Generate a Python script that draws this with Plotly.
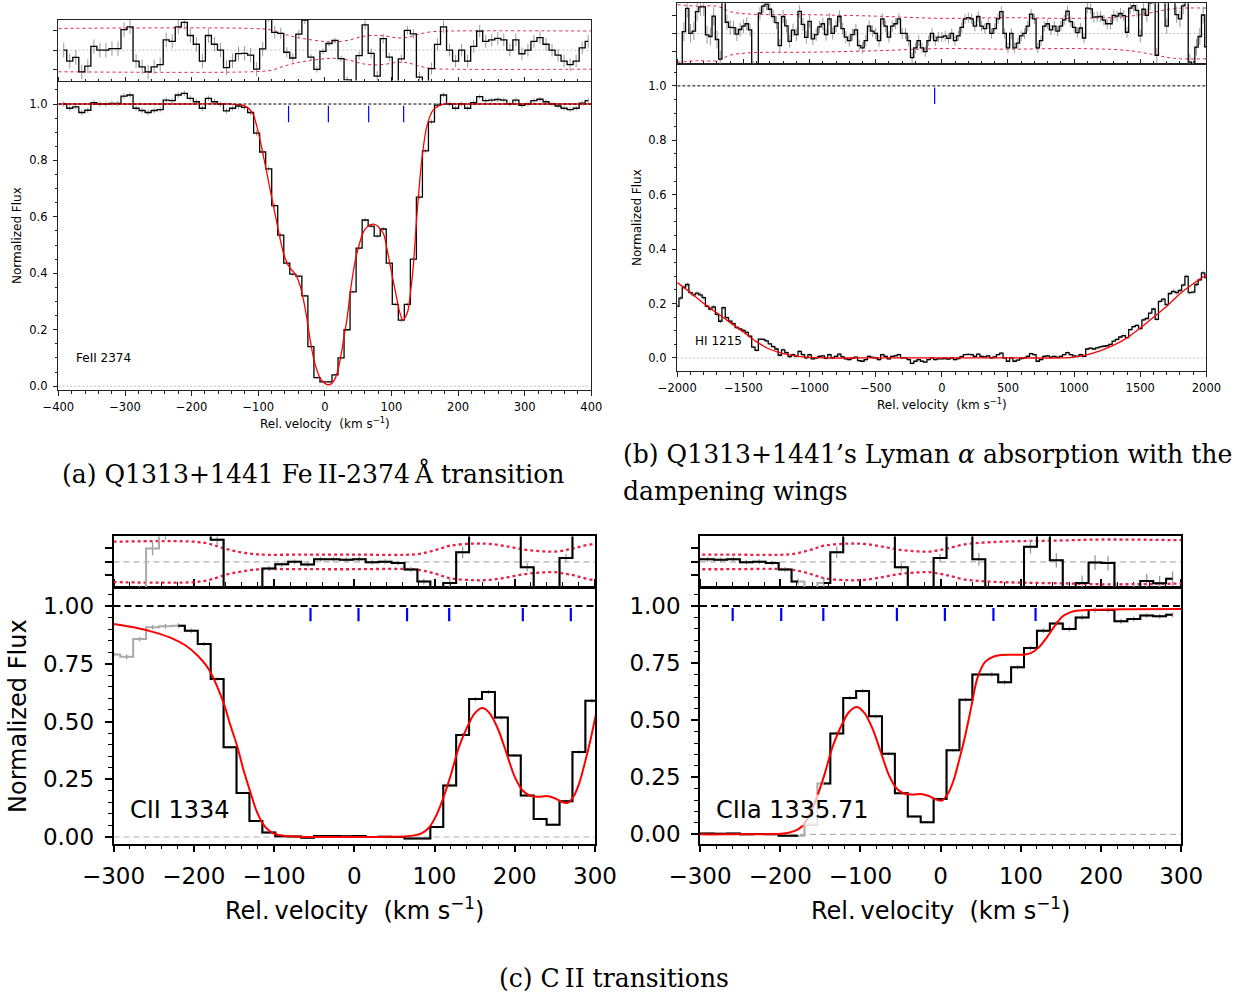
import numpy as np
import plotly.graph_objects as go

W, H = 1240, 998
SANS = "DejaVu Sans"
SERIF = "DejaVu Serif"

# ---------------- Fe II 2374 (panel a) ----------------
FE_V0, FE_DV = -392.0, 9.05          # first pixel centre, pixel width (km/s)
FE_FLUX = [
    1.000, 0.985, 0.990, 0.970, 0.978, 1.005, 1.000, 1.000, 1.002, 1.002,
    1.028, 1.032, 0.985, 0.977, 0.970, 0.977, 0.980, 1.014, 1.012, 1.032,
    1.038, 1.020, 1.008, 0.985, 1.020, 1.008, 1.000, 0.976, 0.985, 0.993,
    0.988, 0.970, 0.897, 0.830, 0.770, 0.640, 0.535, 0.436, 0.397, 0.390,
    0.320, 0.140, 0.030, 0.015, 0.015, 0.040, 0.100, 0.200, 0.334, 0.489,
    0.589, 0.567, 0.532, 0.557, 0.436, 0.290, 0.234, 0.290, 0.450, 0.670,
    0.834, 0.937, 0.996, 1.032, 1.000, 0.985, 1.000, 0.985, 1.005, 1.026,
    1.012, 1.014, 1.016, 1.014, 1.000, 1.014, 0.995, 1.000, 1.012, 1.017,
    1.008, 1.000, 0.993, 0.985, 0.980, 0.985, 1.003, 1.012,
]
FE_MODEL_V = [-400, -300, -200, -140, -125, -118, -112, -107, -102, -97, -92,
              -87, -82, -77, -72, -67, -62, -57, -52, -47, -42, -37, -32, -27,
              -22, -17, -12, -6, 0, 5, 10, 15, 20, 25, 29, 33, 38, 43, 48, 58,
              65, 73, 80, 88, 93, 98, 103, 108, 112, 116, 118, 121, 125, 129,
              133, 138, 145, 153, 163, 178, 200, 300, 400]
FE_MODEL_F = [1.0, 1.0, 1.0, 1.0, 0.997, 0.99, 0.979, 0.96, 0.92, 0.87, 0.813,
              0.755, 0.695, 0.636, 0.578, 0.52, 0.47, 0.438, 0.418, 0.405,
              0.387, 0.355, 0.305, 0.24, 0.163, 0.10, 0.057, 0.024, 0.010,
              0.005, 0.009, 0.025, 0.06, 0.12, 0.18, 0.234, 0.33, 0.41, 0.47,
              0.547, 0.568, 0.574, 0.566, 0.54, 0.49, 0.43, 0.37, 0.31, 0.265,
              0.238, 0.234, 0.245, 0.27, 0.34, 0.43, 0.60, 0.79, 0.92, 0.98,
              1.0, 1.0, 1.0, 1.0]
FE_ENV_V = [-400, -110, -80, -60, -40, -20, 0, 15, 35, 55, 70, 90, 110, 125,
            140, 160, 190, 400]
FE_ENV_U = [1.1, 1.1, 1.02, 0.8, 0.63, 0.52, 0.44, 0.42, 0.5, 0.68, 0.75, 0.72,
            0.62, 0.65, 0.8, 0.93, 0.97, 0.97]
FE_RES_UNIT = 0.027
FE_COMPONENTS = [-54.5, 5.3, 65.8, 118.3]

# ---------------- H I 1215 (panel b) ----------------
HI_V0, HI_DV = -2000.0, 25.0
HI_FLUX = [
    0.190, 0.220, 0.260, 0.270, 0.240, 0.232, 0.238, 0.232, 0.222, 0.190,
    0.180, 0.188, 0.160, 0.135, 0.185, 0.148, 0.135, 0.126, 0.112, 0.107,
    0.101, 0.094, 0.080, 0.040, 0.028, 0.069, 0.068, 0.063, 0.052, 0.042,
    0.033, 0.010, 0.030, 0.020, 0.005, 0.012, 0.006, 0.024, 0.012, 0.000,
    0.012, -0.003, 0.000, 0.006, 0.008, -0.001, 0.012, 0.000, 0.006, 0.014,
    0.004, -0.003, -0.006, -0.001, 0.003, -0.010, -0.012, -0.006, 0.006, 0.002,
    0.000, -0.006, 0.012, 0.006, -0.003, 0.006, 0.008, 0.012, 0.000, 0.000,
    -0.006, -0.020, -0.012, -0.006, -0.012, -0.015, -0.006, 0.000, -0.006, -0.003,
    -0.003, -0.002, -0.004, 0.000, -0.006, -0.002, 0.005, 0.012, 0.013, 0.012,
    0.006, 0.014, 0.006, 0.004, 0.008, 0.000, 0.004, 0.012, 0.018, 0.000,
    -0.012, 0.000, -0.012, -0.008, -0.002, 0.000, 0.006, 0.016, 0.012, -0.012,
    -0.006, 0.006, 0.008, 0.003, 0.006, 0.002, 0.006, 0.012, 0.020, 0.012,
    0.008, 0.006, 0.012, 0.006, 0.033, 0.036, 0.033, 0.037, 0.041, 0.043,
    0.045, 0.050, 0.062, 0.068, 0.077, 0.082, 0.075, 0.104, 0.115, 0.120,
    0.108, 0.140, 0.145, 0.165, 0.180, 0.142, 0.208, 0.216, 0.196, 0.237,
    0.245, 0.240, 0.248, 0.268, 0.300, 0.240, 0.242, 0.270, 0.287, 0.313,
    0.295,
]
HI_MODEL_V = [-2000, -1900, -1800, -1700, -1600, -1500, -1400, -1300, -1200,
              -1100, -1000, -900, -600, 0, 600, 900, 1000, 1100, 1200, 1300,
              1400, 1500, 1600, 1700, 1800, 1900, 2000]
HI_MODEL_F = [0.277, 0.24, 0.20, 0.165, 0.13, 0.095, 0.059, 0.032, 0.016,
              0.007, 0.002, 0.0, 0.0, 0.0, 0.0, 0.0, 0.003, 0.012, 0.027,
              0.047, 0.074, 0.11, 0.15, 0.19, 0.236, 0.273, 0.306]
HI_ENV_V = [-2000, -1850, -1700, -1600, -1450, -1000, -500, 0, 500, 1000,
            1400, 1600, 1750, 2000]
HI_ENV_F = [0.0238, 0.0225, 0.0225, 0.018, 0.016, 0.0155, 0.0143, 0.0125,
            0.013, 0.0125, 0.014, 0.0175, 0.0205, 0.021]
HI_COMPONENTS = [-54.5]

# ---------------- C II 1334 / C II* 1335.71 (panels c, d) ----------------
CII_V0, CII_DV = -299.65, 16.1       # velocities relative to C II 1334
CII_FLUX = [
    0.790, 0.780, 0.857, 0.908, 0.912, 0.915, 0.893, 0.836, 0.684, 0.389,
    0.190, 0.069, 0.019, 0.003, 0.002, -0.003, 0.004, 0.004, 0.003, 0.004,
    0.000, 0.001, 0.000, -0.006, -0.006, 0.043, 0.223, 0.442, 0.597, 0.628,
    0.517, 0.353, 0.180, 0.078, 0.053, 0.155, 0.368, 0.590, 0.700, 0.700,
    0.666, 0.732, 0.816, 0.892, 0.924, 0.899, 0.950, 0.983, 0.983, 0.933,
    0.943, 0.958, 0.955, 0.962,
]
CII_MODEL_V = [-300, -275, -250, -225, -210, -195, -185, -178, -170, -162,
               -154, -146, -138, -130, -122, -114, -106, -98, -88, -75, -50,
               0, 50, 65, 75, 85, 93, 101, 110, 120, 130, 140, 150, 160, 170,
               180, 190, 200, 210, 220, 230, 240, 250, 258, 266, 274, 281,
               288, 295, 302, 310, 320, 330, 340, 352, 367, 377, 387, 397,
               407, 416, 426, 436, 456, 500, 565]
CII_MODEL_F = [0.922, 0.908, 0.887, 0.857, 0.829, 0.785, 0.745, 0.706, 0.645,
               0.572, 0.48, 0.395, 0.29, 0.20, 0.115, 0.058, 0.027, 0.012,
               0.005, 0.002, 0.0, 0.0, 0.001, 0.003, 0.007, 0.018, 0.04,
               0.085, 0.16, 0.265, 0.385, 0.47, 0.535, 0.558, 0.53, 0.46,
               0.36, 0.26, 0.20, 0.178, 0.174, 0.177, 0.168, 0.153, 0.148,
               0.18, 0.24, 0.33, 0.43, 0.545, 0.68, 0.755, 0.778, 0.786,
               0.787, 0.787, 0.794, 0.819, 0.863, 0.914, 0.953, 0.972, 0.98,
               0.984, 0.986, 0.987]
CII_ENV_V = [-300, -200, -180, -160, -140, -120, -60, 0, 60, 80, 100, 120, 150,
             170, 190, 210, 230, 250, 270, 295, 325, 365, 415, 465, 565]
CII_ENV_U = [1.49, 1.49, 1.32, 0.95, 0.7, 0.55, 0.54, 0.54, 0.52, 0.58, 0.85,
             1.2, 1.35, 1.32, 1.15, 0.92, 0.8, 0.76, 0.95, 1.3, 1.45, 1.53,
             1.58, 1.65, 1.6]
CII_RES_UNIT = 0.02
CII_MASK_1334 = [0, 1, 2, 3, 4]
CII_MASK_1335 = [25]
CII_COMPONENTS = [-54.5, 5.3, 65.8, 118.3]
LAM_1334, LAM_1335 = 1334.5323, 1335.71
C_KMS = 299792.458
DV_1335 = C_KMS * (LAM_1335 - LAM_1334) / LAM_1334

# ---------------- figure geometry (pixels) ----------------
BOX = {
    "a": dict(x=(58.4, 591.3), res=(19.6, 80.6), main=(82.3, 390.4)),
    "b": dict(x=(677.3, 1206.4), res=(3.2, 63.7), main=(64.4, 371.3)),
    "c": dict(x=(113.5, 595.0), res=(536.4, 587.4), main=(588.0, 843.7)),
    "d": dict(x=(700.0, 1181.3), res=(536.4, 587.4), main=(588.0, 843.7)),
}

SMALL = dict(fs=11.5, lw=1.0, tl=4.5, mtl=2.5, data_w=1.3, model_w=1.3,
             env_w=1.0, tick_w=1.2, dash_w=1.0, zero_w=0.8, err_w=1.0,
             lc="#222222", xstand=1, ystand=3,
             dash="3px,2px", zdash="2px,2px")
BIG = dict(fs=23, lw=1.5, tl=7, mtl=4, data_w=2.0, model_w=2.0,
           env_w=2.3, tick_w=2.2, dash_w=2.0, zero_w=1.2, err_w=1.3,
           lc="black", xstand=4, ystand=6,
           dash="7px,4px", zdash="6px,4px")


def dom_x(x0, x1):
    return [x0 / W, x1 / W]


def dom_y(top, bottom):
    return [1 - bottom / H, 1 - top / H]


def names(n):
    s = "" if n == 1 else str(n)
    return "x" + s, "y" + s, "xaxis" + s, "yaxis" + s


fig = go.Figure()
axes = {}
shapes = []
annotations = []


def build_panel(n, key, xrng, yrng, xdt, xminor, ydt, yminor, yfmt,
                res_half, res_tick, st, v, flux, model_v, model_f,
                env_v, env_f, mask, comps, tick_span, label, label_pos,
                label_size):
    xm, ym, xam, yam = names(n)
    xr, yr, xar, yar = names(n + 1)
    box = BOX[key]
    v = np.asarray(v, float)
    flux = np.asarray(flux, float)
    model_at = np.interp(v, model_v, model_f)
    err = np.interp(v, env_v, env_f) / 3.0
    resid = flux - model_at
    keep = np.ones(len(v), bool)
    keep[list(mask)] = False
    env_f = np.asarray(env_f, float)

    # ---- residual strip ----
    for sgn in (1, -1):
        fig.add_trace(go.Scatter(
            x=env_v, y=sgn * env_f, mode="lines", xaxis=xr, yaxis=yr,
            line=dict(color="#e8204a", width=st["env_w"], dash="dot",
                      shape="spline"), hoverinfo="skip"))
    fig.add_trace(go.Scatter(
        x=v, y=resid, mode="markers", xaxis=xr, yaxis=yr,
        marker=dict(color="rgba(0,0,0,0)", size=2),
        error_y=dict(type="data", array=err, color="#9a9a9a",
                     thickness=st["err_w"], width=0), hoverinfo="skip"))
    if len(mask):
        fig.add_trace(go.Scatter(
            x=v, y=resid, mode="lines", xaxis=xr, yaxis=yr,
            line=dict(color="#aaaaaa", width=st["data_w"], shape="hvh"),
            hoverinfo="skip"))
    fig.add_trace(go.Scatter(
        x=v, y=[float(r) if k else None for r, k in zip(resid, keep)],
        mode="lines", xaxis=xr, yaxis=yr,
        line=dict(color="black", width=st["data_w"], shape="hvh"),
        hoverinfo="skip"))

    # ---- main panel ----
    fig.add_trace(go.Scatter(
        x=v, y=flux, mode="markers", xaxis=xm, yaxis=ym,
        marker=dict(color="rgba(0,0,0,0)", size=2),
        error_y=dict(type="data", array=err, color="#9a9a9a",
                     thickness=st["err_w"], width=0), hoverinfo="skip"))
    if len(mask):
        fig.add_trace(go.Scatter(
            x=v, y=flux, mode="lines", xaxis=xm, yaxis=ym,
            line=dict(color="#aaaaaa", width=st["data_w"], shape="hvh"),
            hoverinfo="skip"))
    fig.add_trace(go.Scatter(
        x=v, y=[float(f) if k else None for f, k in zip(flux, keep)],
        mode="lines", xaxis=xm, yaxis=ym,
        line=dict(color="black", width=st["data_w"], shape="hvh"),
        hoverinfo="skip"))
    fig.add_trace(go.Scatter(
        x=model_v, y=model_f, mode="lines", xaxis=xm, yaxis=ym,
        line=dict(color="red", width=st["model_w"], shape="spline",
                  smoothing=0.8), hoverinfo="skip"))
    tx, ty = [], []
    for c in comps:
        if xrng[0] < c < xrng[1]:
            tx += [c, c, None]
            ty += [tick_span[0], tick_span[1], None]
    fig.add_trace(go.Scatter(
        x=tx, y=ty, mode="lines", xaxis=xm, yaxis=ym,
        line=dict(color="blue", width=st["tick_w"]), hoverinfo="skip"))

    # reference lines
    shapes.append(dict(type="line", xref=f"{xm} domain", yref=ym, x0=0, x1=1,
                       y0=1, y1=1, layer="above",
                       line=dict(color="black", width=st["dash_w"],
                                 dash=st["dash"])))
    shapes.append(dict(type="line", xref=f"{xm} domain", yref=ym, x0=0, x1=1,
                       y0=0, y1=0, layer="below",
                       line=dict(color="#b0b0b0", width=st["zero_w"],
                                 dash=st["zdash"])))
    shapes.append(dict(type="line", xref=f"{xr} domain", yref=yr, x0=0, x1=1,
                       y0=0, y1=0, layer="below",
                       line=dict(color="#b0b0b0", width=st["zero_w"],
                                 dash=st["zdash"])))

    annotations.append(dict(
        text=label, x=label_pos[0], y=label_pos[1], xref=xm, yref=ym,
        xanchor="left", yanchor="middle", showarrow=False,
        font=dict(family=SANS, size=label_size, color="black"),
        bgcolor="rgba(255,255,255,0.7)", borderpad=1))

    tickfont = dict(family=SANS, size=st["fs"], color="black")
    common = dict(showline=True, linecolor=st["lc"], linewidth=st["lw"],
                  showgrid=False, zeroline=False, tickcolor=st["lc"],
                  tickwidth=st["lw"], ticklen=st["tl"], tickfont=tickfont,
                  automargin=False)
    axes[xam] = dict(common, domain=dom_x(*box["x"]), range=list(xrng),
                     anchor=ym, mirror="allticks", ticks="outside",
                     dtick=xdt, tick0=0, ticklabelstandoff=st["xstand"],
                     minor=dict(dtick=xminor, tick0=0, ticks="outside",
                                ticklen=st["mtl"], tickwidth=st["lw"] * 0.8,
                                tickcolor=st["lc"], showgrid=False))
    axes[yam] = dict(common, domain=dom_y(*box["main"]), range=list(yrng),
                     anchor=xm, mirror=True, ticks="outside", dtick=ydt,
                     tick0=0, tickformat=yfmt, ticklabelstandoff=st["ystand"],
                     minor=dict(dtick=yminor, tick0=0, ticks="outside",
                                ticklen=st["mtl"], tickwidth=st["lw"] * 0.8,
                                tickcolor=st["lc"], showgrid=False))
    axes[xar] = dict(common, domain=dom_x(*box["x"]), range=list(xrng),
                     anchor=yr, mirror=True, ticks="", showticklabels=False)
    axes[yar] = dict(common, domain=dom_y(*box["res"]),
                     range=[-res_half, res_half], anchor=xr, mirror=True,
                     ticks="outside", tickvals=[-res_tick, 0, res_tick],
                     showticklabels=False)


fe_v = FE_V0 + FE_DV * np.arange(len(FE_FLUX))
hi_v = HI_V0 + HI_DV * np.arange(len(HI_FLUX))
cii_v = CII_V0 + CII_DV * np.arange(len(CII_FLUX))

build_panel(1, "a", (-400, 400), (-0.015, 1.077), 100, 20, 0.2, 0.05, ".1f",
            1.55 * FE_RES_UNIT, FE_RES_UNIT, SMALL, fe_v, FE_FLUX,
            FE_MODEL_V, FE_MODEL_F, FE_ENV_V,
            np.asarray(FE_ENV_U) * FE_RES_UNIT, [], FE_COMPONENTS,
            (0.994, 0.935), "FeII 2374", (-376.6, 0.10), 12)

build_panel(3, "b", (-2000, 2000), (-0.049, 1.079), 500, 100, 0.2, 0.05,
            ".1f", 0.025, 0.015, SMALL, hi_v, HI_FLUX, HI_MODEL_V,
            HI_MODEL_F, HI_ENV_V, HI_ENV_F, [], HI_COMPONENTS,
            (0.994, 0.933), "HI 1215", (-1881, 0.0625), 12)

cii_comps = CII_COMPONENTS + [c + DV_1335 for c in CII_COMPONENTS]
build_panel(5, "c", (-300, 300), (-0.029, 1.078), 100, 20, 0.25, 0.05,
            ".2f", 1.88 * CII_RES_UNIT, CII_RES_UNIT, BIG, cii_v, CII_FLUX,
            CII_MODEL_V, CII_MODEL_F, CII_ENV_V,
            np.asarray(CII_ENV_U) * CII_RES_UNIT, CII_MASK_1334, cii_comps,
            (0.991, 0.934), "CII 1334", (-282, 0.117), 24)

ciia_comps = CII_COMPONENTS + [c - DV_1335 for c in CII_COMPONENTS]
build_panel(7, "d", (-300, 300), (-0.041, 1.079), 100, 20, 0.25, 0.05,
            ".2f", 1.88 * CII_RES_UNIT, CII_RES_UNIT, BIG, cii_v - DV_1335,
            CII_FLUX, np.asarray(CII_MODEL_V) - DV_1335, CII_MODEL_F,
            np.asarray(CII_ENV_V) - DV_1335,
            np.asarray(CII_ENV_U) * CII_RES_UNIT, CII_MASK_1335, ciia_comps,
            (0.991, 0.934), "CIIa 1335.71", (-282.6, 0.106), 24)

# ---------------- axis titles and captions ----------------
XLAB = "Rel.\u2009velocity\u00a0\u00a0(km\u00a0s<sup>\u22121</sup>)"


def paper_text(text, x, y, size, family=SANS, angle=0, xanchor="center"):
    annotations.append(dict(
        text=text, x=x / W, y=1 - y / H, xref="paper", yref="paper",
        xanchor=xanchor, yanchor="middle", showarrow=False, textangle=angle,
        font=dict(family=family, size=size, color="black")))


paper_text(XLAB, 325, 423, 12)
paper_text("Normalized Flux", 17, 236, 12, angle=-90)
paper_text(XLAB, 942, 404, 12)
paper_text("Normalized Flux", 637, 218, 12, angle=-90)
paper_text(XLAB, 354, 909, 24)
paper_text("Normalized Flux", 18, 716, 24, angle=-90)
paper_text(XLAB, 940, 909, 24)

CAP = 25.1
paper_text("(a) Q1313+1441 Fe\u2009II-2374\u2009\u00c5 transition", 60, 473,
           CAP, family=SERIF, xanchor="left")
paper_text("(b) Q1313+1441\u2019s Lyman <i>\u03b1</i> absorption with the",
           621, 455, CAP, family=SERIF, xanchor="left")
paper_text("dampening wings", 621, 491, CAP, family=SERIF, xanchor="left")
paper_text("(c) C\u2009II transitions", 614, 978, CAP, family=SERIF)

fig.update_layout(
    template="none",
    width=W, height=H, margin=dict(l=0, r=0, t=0, b=0, autoexpand=False),
    paper_bgcolor="white", plot_bgcolor="white", showlegend=False,
    shapes=shapes, annotations=annotations, **axes)

fig.write_html("out.html")
